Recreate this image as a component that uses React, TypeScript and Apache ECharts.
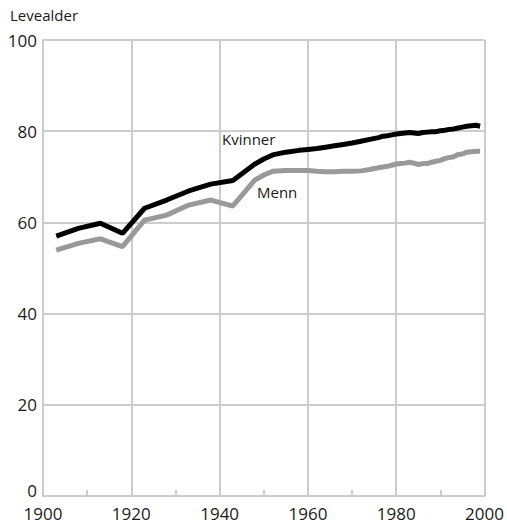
import React, { useEffect, useRef } from "react";
import * as echarts from "echarts";

const xTicks = [1900, 1920, 1940, 1960, 1980, 2000];
const yTicks = [0, 20, 40, 60, 80, 100];

const womenYears = [1903, 1908, 1913, 1918, 1923, 1928, 1933, 1938, 1943, 1948, 1950, 1952, 1955, 1958, 1960, 1962, 1964, 1966, 1968, 1970, 1972, 1974, 1976, 1977, 1978, 1979, 1980, 1981, 1982, 1983, 1984, 1985, 1986, 1987, 1988, 1989, 1990, 1991, 1992, 1993, 1994, 1995, 1996, 1997, 1998, 1999];
const womenValues = [57.0, 58.7, 59.8, 57.6, 63.1, 64.9, 66.9, 68.4, 69.2, 72.8, 73.9, 74.8, 75.4, 75.8, 76.0, 76.2, 76.5, 76.8, 77.1, 77.4, 77.8, 78.2, 78.6, 78.9, 79.0, 79.2, 79.4, 79.5, 79.6, 79.7, 79.6, 79.5, 79.7, 79.8, 79.9, 79.9, 80.1, 80.2, 80.4, 80.5, 80.7, 80.9, 81.1, 81.2, 81.3, 81.1];

const menYears = [1903, 1908, 1913, 1918, 1923, 1928, 1933, 1938, 1943, 1948, 1950, 1952, 1955, 1958, 1960, 1962, 1964, 1966, 1968, 1970, 1972, 1974, 1976, 1978, 1980, 1981, 1982, 1983, 1984, 1985, 1986, 1987, 1988, 1989, 1990, 1991, 1992, 1993, 1994, 1995, 1996, 1997, 1998, 1999];
const menValues = [53.9, 55.4, 56.4, 54.7, 60.5, 61.6, 63.8, 64.9, 63.6, 69.3, 70.4, 71.2, 71.4, 71.4, 71.4, 71.2, 71.1, 71.1, 71.2, 71.2, 71.3, 71.6, 72.0, 72.3, 72.8, 72.9, 73.0, 73.2, 73.0, 72.7, 72.9, 72.9, 73.2, 73.4, 73.6, 74.0, 74.2, 74.4, 74.9, 75.0, 75.4, 75.5, 75.6, 75.6];

const seriesNames = ["Kvinner", "Menn"];
const yAxisTitle = "Levealder";

const FONT = "'Open Sans', 'Noto Sans', sans-serif";
const GRID = "#cccccc";
const TEXT = "#1a1a1a";

export default function App() {
  const ref = useRef<HTMLDivElement>(null);
  useEffect(() => {
    if (!ref.current) return;
    const chart = echarts.init(ref.current, undefined, { renderer: "svg" });
    const pair = (ys: number[], vs: number[]) => ys.map((y, i) => [y, vs[i]]);
    chart.setOption({
      animation: false,
      backgroundColor: "#ffffff",
      textStyle: { fontFamily: FONT },
      grid: { left: 43, right: 20, top: 40, bottom: 28, containLabel: false },
      xAxis: {
        type: "value",
        min: xTicks[0],
        max: xTicks[xTicks.length - 1],
        interval: 20,
        axisLine: { show: true, lineStyle: { color: GRID, width: 2 } },
        axisTick: { show: true, inside: true, length: 6, lineStyle: { color: GRID, width: 2 } },
        minorTick: { show: true, splitNumber: 2, length: 6, lineStyle: { color: GRID, width: 2 } },
        splitLine: { show: true, lineStyle: { color: GRID, width: 2 } },
        axisLabel: { color: TEXT, fontSize: 17, lineHeight: 13, fontFamily: FONT, margin: 11, formatter: (v: number) => String(v) },
      },
      yAxis: {
        type: "value",
        min: yTicks[0],
        max: yTicks[yTicks.length - 1],
        interval: 20,
        axisLine: { show: true, lineStyle: { color: GRID, width: 2 } },
        axisTick: { show: false },
        splitLine: { show: true, lineStyle: { color: GRID, width: 2 } },
        axisLabel: {
          color: TEXT,
          fontSize: 17,
          lineHeight: 13,
          fontFamily: FONT,
          margin: 6,
          formatter: (v: number) => (v === 0 ? "{z|0}" : String(v)),
          rich: { z: { fontSize: 17, lineHeight: 13, fontFamily: FONT, color: TEXT, padding: [0, 0, 12, 0] } },
        },
      },
      series: [
        {
          name: seriesNames[0],
          type: "line",
          data: pair(womenYears, womenValues),
          symbol: "none",
          lineStyle: { color: "#000000", width: 5 },
          z: 3,
        },
        {
          name: seriesNames[1],
          type: "line",
          data: pair(menYears, menValues),
          symbol: "none",
          lineStyle: { color: "#999999", width: 5 },
          z: 2,
        },
      ],
      graphic: [
        { type: "text", left: 10, top: 7, style: { text: yAxisTitle, fontSize: 15, fontFamily: FONT, fill: TEXT } },
        { type: "text", left: 222, top: 131, style: { text: seriesNames[0], fontSize: 15, fontFamily: FONT, fill: TEXT } },
        { type: "text", left: 257, top: 184, style: { text: seriesNames[1], fontSize: 15, fontFamily: FONT, fill: TEXT } },
      ],
    });
    return () => chart.dispose();
  }, []);
  return <div ref={ref} style={{ width: 507, height: 524, position: "absolute", left: 0, top: 0 }} />;
}
